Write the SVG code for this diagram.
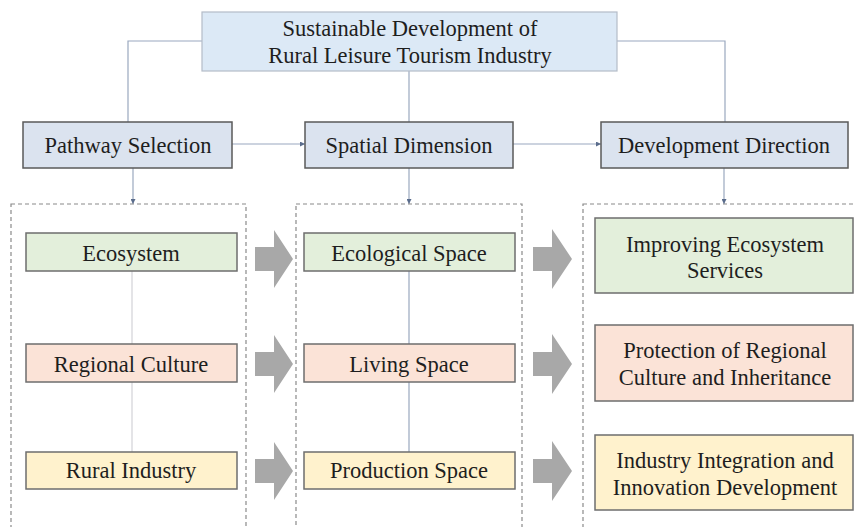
<svg xmlns="http://www.w3.org/2000/svg" width="854" height="527" viewBox="0 0 854 527" font-family="Liberation Serif, Times New Roman, serif">
<defs>
<style>
text{font-size:22.5px;fill:#1e1e1e;text-anchor:middle}
.top{fill:#dce9f6;stroke:#b4bcc8;stroke-width:1.2}
.mid{fill:#dbe3ef;stroke:#5a5a5a;stroke-width:1.5}
.g{fill:#e3efdb;stroke:#6e6e6e;stroke-width:1.5}
.p{fill:#fbe3d7;stroke:#6e6e6e;stroke-width:1.5}
.y{fill:#fff2cd;stroke:#6e6e6e;stroke-width:1.5}
.dash{fill:none;stroke:#8a8a8a;stroke-width:1.2;stroke-dasharray:4 3}
.con{fill:none;stroke:#9aa8bf;stroke-width:1.2}
.blk{fill:#a8a8a8}
</style>
<marker id="ah" viewBox="0 0 6 6" refX="6" refY="3" markerWidth="5" markerHeight="5" orient="auto" markerUnits="userSpaceOnUse">
<path d="M0,0 L6,3 L0,6 z" fill="#5a6c8c"/>
</marker>
</defs>
<rect width="854" height="527" fill="#ffffff"/>

<g id="connectors">
<path class="con" d="M202,41 H128 V122"/>
<path class="con" d="M617,41 H725 V122"/>
<path class="con" d="M409,71 V122"/>
<path class="con" d="M232,144 H305" marker-end="url(#ah)"/>
<path class="con" d="M513,144 H601" marker-end="url(#ah)"/>
<path class="con" d="M133,168 V204" marker-end="url(#ah)"/>
<path class="con" d="M409,168 V204" marker-end="url(#ah)"/>
<path class="con" d="M724,168 V204" marker-end="url(#ah)"/>
<path fill="none" stroke="#d2d2d8" stroke-width="1.2" d="M132,271 V344 M132,382 V452"/>
<path class="con" stroke="#8c9cbb" d="M409,271 V344 M409,382 V452"/>
<path class="blk" d="M255,247 H274 V230 L293,259 L274,288 V271 H255 Z"/>
<path class="blk" d="M255,352 H274 V335 L293,364 L274,393 V376 H255 Z"/>
<path class="blk" d="M255,459 H274 V442 L293,471 L274,500 V483 H255 Z"/>
<path class="blk" d="M533,247 H552 V229 L572,259 L552,289 V271 H533 Z"/>
<path class="blk" d="M533,352 H552 V334 L572,364 L552,394 V376 H533 Z"/>
<path class="blk" d="M533,459 H552 V441 L572,471 L552,501 V483 H533 Z"/>
</g>

<g id="groups">
<rect class="dash" x="11" y="204" width="235" height="330"/>
<rect class="dash" x="296" y="204" width="226" height="330"/>
<rect class="dash" x="583" y="204" width="280" height="330"/>
</g>

<g id="title">
<rect class="top" x="202" y="12" width="415" height="59"/>
<text x="410" y="36">Sustainable Development of</text>
<text x="410" y="63">Rural Leisure Tourism Industry</text>
</g>

<g id="pathway">
<rect class="mid" x="23" y="122" width="209" height="46"/>
<text x="128" y="153">Pathway Selection</text>
</g>
<g id="spatial">
<rect class="mid" x="305" y="122" width="208" height="46"/>
<text x="409" y="153">Spatial Dimension</text>
</g>
<g id="direction">
<rect class="mid" x="601" y="122" width="247" height="46"/>
<text x="724" y="153">Development Direction</text>
</g>

<g id="ecosystem">
<rect class="g" x="26" y="233" width="211" height="38"/>
<text x="131" y="261">Ecosystem</text>
</g>
<g id="regional-culture">
<rect class="p" x="26" y="344" width="211" height="38"/>
<text x="131" y="372">Regional Culture</text>
</g>
<g id="rural-industry">
<rect class="y" x="26" y="452" width="211" height="37"/>
<text x="131" y="478">Rural Industry</text>
</g>

<g id="ecological-space">
<rect class="g" x="304" y="233" width="211" height="38"/>
<text x="409" y="261">Ecological Space</text>
</g>
<g id="living-space">
<rect class="p" x="304" y="344" width="211" height="38"/>
<text x="409" y="372">Living Space</text>
</g>
<g id="production-space">
<rect class="y" x="304" y="452" width="211" height="37"/>
<text x="409" y="478">Production Space</text>
</g>

<g id="improving">
<rect class="g" x="595" y="218" width="258" height="75"/>
<text x="725" y="252">Improving Ecosystem</text>
<text x="725" y="278">Services</text>
</g>
<g id="protection">
<rect class="p" x="595" y="325" width="258" height="76"/>
<text x="725" y="358">Protection of Regional</text>
<text x="725" y="385">Culture and Inheritance</text>
</g>
<g id="integration">
<rect class="y" x="595" y="435" width="258" height="75"/>
<text x="725" y="468">Industry Integration and</text>
<text x="725" y="495">Innovation Development</text>
</g>
</svg>
